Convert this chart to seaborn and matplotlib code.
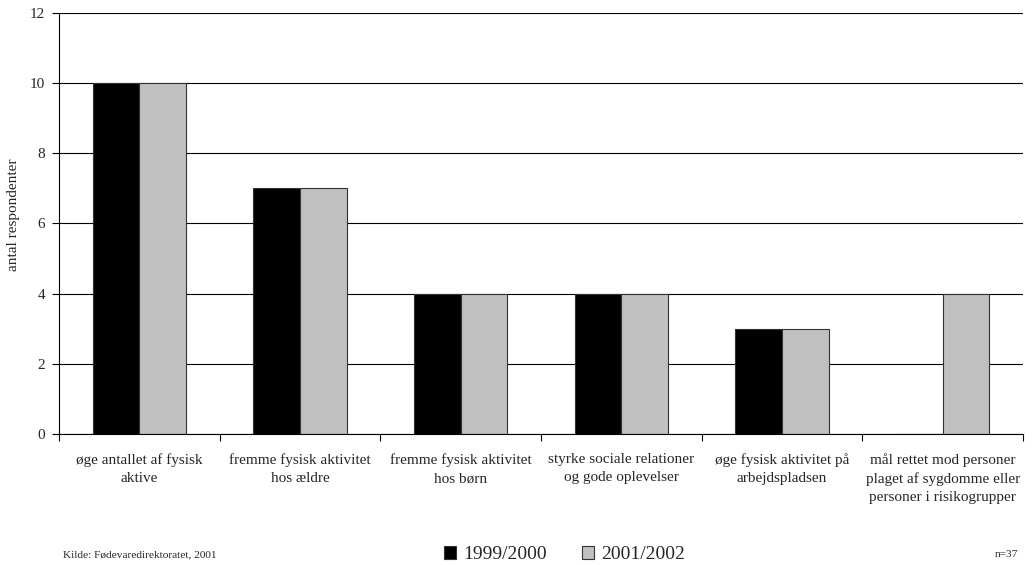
import numpy as np
import pandas as pd
import matplotlib
matplotlib.use("Agg")
import matplotlib.pyplot as plt
import seaborn as sns

categories = [
    "øge antallet af fysisk\naktive",
    "fremme fysisk aktivitet\nhos ældre",
    "fremme fysisk aktivitet\nhos børn",
    "styrke sociale relationer\nog gode oplevelser",
    "øge fysisk aktivitet på\narbejdspladsen",
    "mål rettet mod personer\nplaget af sygdomme eller\npersoner i risikogrupper",
]
years = ["1999/2000", "2001/2002"]
values_1999 = [10, 7, 4, 4, 3, 0]
values_2001 = [10, 7, 4, 4, 3, 4]
y_ticks = [0, 2, 4, 6, 8, 10, 12]

df = pd.DataFrame({
    "kategori": categories * 2,
    "år": [years[0]] * len(categories) + [years[1]] * len(categories),
    "antal": values_1999 + values_2001,
})

sns.set_theme(style="white")
plt.rcParams["font.family"] = ["Liberation Serif", "DejaVu Serif"]

fig = plt.figure(figsize=(10.34, 5.65), dpi=100)
ax = fig.add_axes([0.0571, 0.2319, 0.9323, 0.7451])

sns.barplot(data=df, x="kategori", y="antal", hue="år",
            palette=["#000000", "#c0c0c0"], width=0.58,
            edgecolor="#333333", linewidth=0.8, ax=ax, legend=False,
            saturation=1)

ax.set_ylim(0, 12)
ax.set_xlim(-0.5, len(categories) - 0.5)
ax.set_yticks(y_ticks)
ax.set_yticklabels([str(t) for t in y_ticks], fontsize=11)
ax.yaxis.grid(True, color="black", linewidth=0.8)
ax.set_axisbelow(True)

for s in ["top", "right"]:
    ax.spines[s].set_visible(False)
for s in ["left", "bottom"]:
    ax.spines[s].set_color("black")
    ax.spines[s].set_linewidth(0.8)

ax.tick_params(axis="y", left=True, length=5, width=0.8, color="black", pad=5)
ax.set_xticks(range(len(categories)))
ax.set_xticklabels(categories, fontsize=11, linespacing=1.5, va="top")
ax.tick_params(axis="x", which="major", bottom=False, length=0, pad=14)
ax.set_xticks(np.arange(-0.5, len(categories)), minor=True)
ax.tick_params(axis="x", which="minor", bottom=True, length=5, width=0.8, color="black")

ax.set_xlabel("")
ax.set_ylabel("antal respondenter", fontsize=11)
ax.yaxis.set_label_coords(-0.041, 0.52)

handles = [plt.Rectangle((0, 0), 1, 1, facecolor=c, edgecolor="#333333", linewidth=0.8)
           for c in ["#000000", "#c0c0c0"]]
fig.legend(handles, years, loc="center", bbox_to_anchor=(0.546, 0.018), ncol=2,
           frameon=False, fontsize=14, handlelength=0.62, handleheight=0.62,
           handletextpad=0.36, columnspacing=1.8, borderpad=0)

fig.text(0.061, 0.018, "Kilde: Fødevaredirektoratet, 2001", fontsize=8.2, va="center")
fig.text(0.985, 0.018, "n=37", fontsize=8.2, va="center", ha="right")

fig.savefig("out.png", dpi=100)
